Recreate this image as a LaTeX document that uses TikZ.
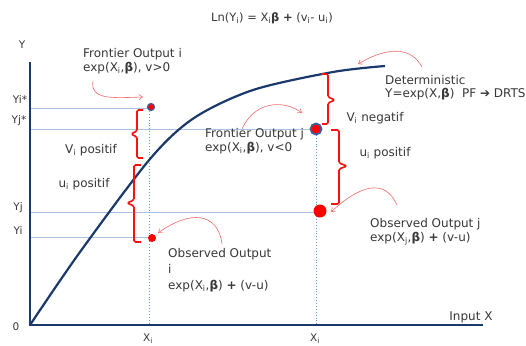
\documentclass[tikz,border=0pt]{standalone}
\usepackage{fontspec}
\setmainfont{DejaVu Sans}
\usetikzlibrary{arrows.meta}
\definecolor{navy}{HTML}{1B3A6B}
\definecolor{gridblue}{HTML}{A9C4E4}
\definecolor{dotblue}{HTML}{5B9BD5}
\definecolor{brred}{HTML}{FF1010}
\definecolor{arrred}{HTML}{F26B6B}
\definecolor{txt}{HTML}{383838}
\definecolor{ringblue}{HTML}{3B5F9A}
\newcommand{\subi}[1]{\textsubscript{#1}}
\begin{document}
\begin{tikzpicture}[x=1pt,y=-1pt,
  lbl/.style={font=\fontsize{12}{13.5}\selectfont, text=txt, inner sep=0pt},
  axlbl/.style={font=\fontsize{10.5}{12}\selectfont, text=txt, inner sep=0pt},
  axis/.style={navy, line width=2.6pt},
  curve/.style={navy, line width=2.2pt},
  guide/.style={gridblue, line width=0.7pt},
  vguide/.style={dotblue, dotted, line width=0.9pt},
  redbrace/.style={brred, line width=1.6pt, rounded corners=1.5pt},
  callout/.style={arrred, line width=0.6pt, -{Straight Barb[length=3.5pt,width=5pt]}},
  obsdot/.style={circle, fill=red, inner sep=0pt},
  frdot/.style={circle, fill=red, draw=ringblue, inner sep=0pt},
]
\useasboundingbox (0,0) rectangle (526,345);
\fill[white] (0,0) rectangle (526,345);

% guides
\draw[guide] (30,108) -- (149,108);
\draw[guide] (30,129.5) -- (316,129.5);
\draw[guide] (30,212) -- (316,212);
\draw[guide] (30,237) -- (150,237);
\draw[vguide] (149,108) -- (149,325);
\draw[vguide] (316,129) -- (316,325);

% axes
\coordinate (ytop) at (30,62);
\coordinate (O) at (30,325);
\coordinate (xend) at (483,325);
\draw[axis, line join=miter] (ytop) -- (O) -- (xend);

% curve
\draw[curve] plot[smooth] coordinates {(30,325) (80,252) (150,159) (194,118) (253,90) (333,72) (385,66)};

% braces
\draw[redbrace] (143,110) -- (137,110) -- (137,131) -- (131,134) -- (137,137) -- (137,158) -- (143,158);
\draw[redbrace] (141,165) -- (134,165) -- (134,200) -- (127,203) -- (134,206) -- (134,242) -- (141,242);
\draw[redbrace] (321,74) -- (328,74) -- (328,97) -- (335,100) -- (328,103) -- (328,124) -- (322,124);
\draw[redbrace] (331,130) -- (339,130) -- (339,163) -- (347,166) -- (339,169) -- (339,204) -- (331,204);

% dots
\node[frdot, minimum size=7pt, line width=1.2pt] (fi) at (151,107) {};
\node[obsdot, minimum size=8pt] (oi) at (152,238) {};
\node[frdot, minimum size=11pt, line width=1.8pt] (fj) at (316,129) {};
\node[obsdot, minimum size=13pt] (oj) at (320,211) {};

% texts
\node[lbl, font=\fontsize{11.5}{13.5}\selectfont] (title) at (272,18) {Ln(Y\subi{i}) = X\subi{i}\textbf{β} \textbf{+} (v\subi{i}- u\subi{i})};
\node[axlbl] (ylab) at (22,45) {Y};
\node[axlbl] (zero) at (16,327) {0};
\node[lbl] (xlab) at (471,317) {Input X};
\node[axlbl] (xi) at (148,339) {X\subi{i}};
\node[axlbl] (xj) at (315,339) {X\subi{i}};
\node[axlbl] (yis) at (20,100) {Yi*};
\node[axlbl] (yjs) at (19,121) {Yj*};
\node[axlbl] (yj) at (18,208) {Yj};
\node[axlbl] (yi) at (18,231) {Yi};

\node[lbl] (vpos) at (91,150) {V\subi{i} positif};
\node[lbl] (upos) at (84,184) {u\subi{i} positif};
\node[lbl] (vneg) at (375,118) {V\subi{i} negatif};
\node[lbl] (upos2) at (385,153) {u\subi{i} positif};

\node[lbl, anchor=north west, align=left] (tfi) at (83,48.5) {Frontier Output i\\exp(X\subi{i},\textbf{β}), v>0};
\node[lbl, anchor=north west, align=left] (tfj) at (205,128.5) {Frontier Output j\\exp(X\subi{i},\textbf{β}), v<0};
\node[lbl, anchor=north west, align=left, font=\fontsize{12}{13}\selectfont] (tdet) at (385,75.5) {Deterministic\\Y=exp(X,\textbf{β})\ \ PF \textbf{➔} DRTS};
\node[lbl, anchor=north west, align=left, font=\fontsize{12}{14}\selectfont] (toj) at (370,218.5) {Observed Output j\\exp(X\subi{j},\textbf{β}) \textbf{+} (v-u)};
\node[lbl, anchor=north west, align=left, font=\fontsize{12}{16}\selectfont] (toi) at (168,248.5) {Observed Output\\i\\exp(X\subi{i},\textbf{β}) \textbf{+} (v-u)};

% callouts
\coordinate (a1s) at (93,81);   \coordinate (a1e) at (143,97);
\coordinate (a2s) at (242,129); \coordinate (a2e) at (302,113);
\coordinate (a3s) at (422,67);  \coordinate (a3e) at (358,64);
\coordinate (a4s) at (222,244); \coordinate (a4e) at (158,233);
\coordinate (a5s) at (397,205); \coordinate (a5e) at (331,212);
\draw[callout] (a1s) .. controls (90,100) and (112,98) .. (a1e);
\draw[callout] (a2s) .. controls (255,100) and (285,100) .. (a2e);
\draw[callout] (a3s) .. controls (410,45) and (385,48) .. (a3e);
\draw[callout] (a4s) .. controls (218,212) and (190,210) .. (a4e);
\draw[callout] (a5s) .. controls (385,178) and (360,185) .. (a5e);
\end{tikzpicture}
\end{document}
